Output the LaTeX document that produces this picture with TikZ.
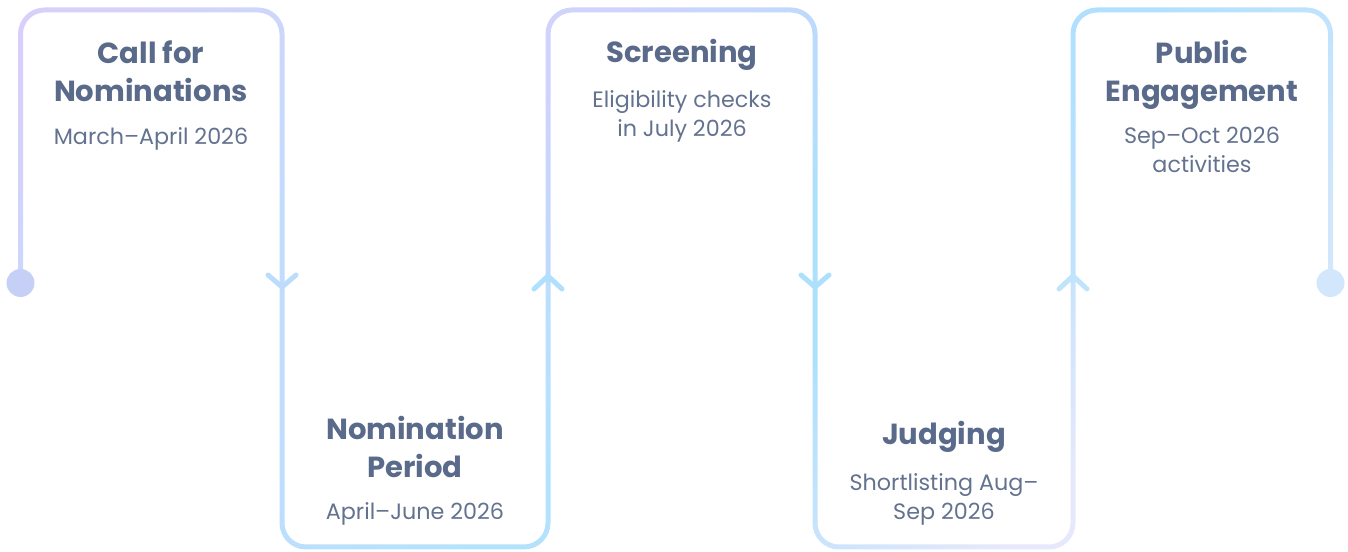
\documentclass[tikz,border=0pt]{standalone}
\usepackage{fontspec}
\setmainfont{Poppins}
\usetikzlibrary{calc}
\usetikzlibrary{positioning}

\definecolor{slateink}{HTML}{5A6A8A}
\definecolor{notelink}{HTML}{63728F}
\definecolor{lilac}{HTML}{D8D0FA}
\definecolor{lilacsoft}{HTML}{D0D3FB}
\definecolor{haze}{HTML}{C2DCFC}
\definecolor{sky}{HTML}{B4E2FD}
\definecolor{skydeep}{HTML}{ADE0FD}
\definecolor{mist}{HTML}{E6E8FB}
\definecolor{frost}{HTML}{D2E6FC}
\definecolor{dotlilac}{HTML}{C6CFF6}
\definecolor{markhaze}{HTML}{BCDCFC}
\definecolor{marksky}{HTML}{B0E0FE}
\definecolor{markpale}{HTML}{C0E4FC}

% track geometry (pixel units of the picture)
\newcommand{\tracktop}{542}
\newcommand{\trackbot}{5}
\newcommand{\trackmid}{269}
\newcommand{\trackrad}{24}
\newcommand{\trackhw}{2.5}

% arch over the top: from x=#1 up, across, down to x=#2
\newcommand{\archover}[4]{%
  \shade[top color=#3, bottom color=#4, shading angle=45]
    (#1-\trackhw,\trackmid) -- (#1-\trackhw,\tracktop-\trackrad)
    arc[start angle=180, end angle=90, radius=\trackrad+\trackhw]
    -- (#2-\trackrad,\tracktop+\trackhw)
    arc[start angle=90, end angle=0, radius=\trackrad+\trackhw]
    -- (#2+\trackhw,\trackmid) -- (#2-\trackhw,\trackmid)
    -- (#2-\trackhw,\tracktop-\trackrad)
    arc[start angle=0, end angle=90, radius=\trackrad-\trackhw]
    -- (#1+\trackrad,\tracktop-\trackhw)
    arc[start angle=90, end angle=180, radius=\trackrad-\trackhw]
    -- (#1+\trackhw,\trackmid) -- cycle;}

% dip underneath: from x=#1 down, across, up to x=#2
\newcommand{\archunder}[4]{%
  \shade[top color=#3, bottom color=#4, shading angle=45]
    (#1-\trackhw,\trackmid) -- (#1-\trackhw,\trackbot+\trackrad)
    arc[start angle=180, end angle=270, radius=\trackrad+\trackhw]
    -- (#2-\trackrad,\trackbot-\trackhw)
    arc[start angle=270, end angle=360, radius=\trackrad+\trackhw]
    -- (#2+\trackhw,\trackmid) -- (#2-\trackhw,\trackmid)
    -- (#2-\trackhw,\trackbot+\trackrad)
    arc[start angle=0, end angle=-90, radius=\trackrad-\trackhw]
    -- (#1+\trackrad,\trackbot+\trackhw)
    arc[start angle=270, end angle=180, radius=\trackrad-\trackhw]
    -- (#1+\trackhw,\trackmid) -- cycle;}

\tikzset{
  stagetitle/.style={font=\bfseries\fontsize{21.8}{29}\selectfont, text=slateink,
    align=center, inner sep=0pt, anchor=base},
  stagenote/.style={font=\fontsize{16.7}{21.75}\selectfont, text=notelink,
    align=center, inner sep=0pt, anchor=base},
  chevron/.style={line width=3.75pt, line cap=round, line join=round},
}

\begin{document}
\begin{tikzpicture}[x=0.75pt, y=0.75pt]
  \useasboundingbox (0,0) rectangle (1348,552);

  % junctions along the track
  \coordinate (p0) at (20.5,\trackmid);
  \coordinate (p1) at (282,\trackmid);
  \coordinate (p2) at (548,\trackmid);
  \coordinate (p3) at (815,\trackmid);
  \coordinate (p4) at (1073,\trackmid);
  \coordinate (p5) at (1330.5,\trackmid);

  \archover{20.5}{282}{lilac}{haze}
  \archunder{282}{548}{haze}{sky}
  \archover{548}{815}{lilacsoft}{skydeep}
  \archunder{815}{1073}{skydeep}{mist}
  \archover{1073}{1330.5}{marksky}{frost}

  % end dots
  \fill[dotlilac] (p0) circle[radius=14];
  \fill[frost] (p5) circle[radius=14];

  % direction marks
  \draw[chevron, markhaze] ($(p1)+(-14,8)$) -- ($(p1)+(0,-4)$) -- ($(p1)+(14,8)$);
  \draw[chevron, marksky] ($(p2)+(-14,-6)$) -- ($(p2)+(0,7)$) -- ($(p2)+(14,-6)$);
  \draw[chevron, skydeep] ($(p3)+(-14,8)$) -- ($(p3)+(0,-4)$) -- ($(p3)+(14,8)$);
  \draw[chevron, markpale] ($(p4)+(-14,-6)$) -- ($(p4)+(0,7)$) -- ($(p4)+(14,-6)$);

  % stage labels (base = last line)
  \node[stagetitle] (call) at (151,450) {Call for\\Nominations};
  \node[stagenote] (callnote) at (151,407) {March–April 2026};

  \node[stagetitle] (period) at (415,74) {Nomination\\Period};
  \node[stagenote] (periodnote) at (415,32) {April–June 2026};

  \node[stagetitle] (screen) at (682,489) {Screening};
  \node[stagenote] (screennote) at (682,415) {Eligibility checks\\in July 2026};

  \node[stagetitle] (judge) at (944,107) {Judging};
  \node[stagenote] (judgenote) at (944,32) {Shortlisting Aug–\\Sep 2026};

  \node[stagetitle] (public) at (1202,450) {Public\\Engagement};
  \node[stagenote] (publicnote) at (1202,379) {Sep–Oct 2026\\activities};
\end{tikzpicture}
\end{document}
